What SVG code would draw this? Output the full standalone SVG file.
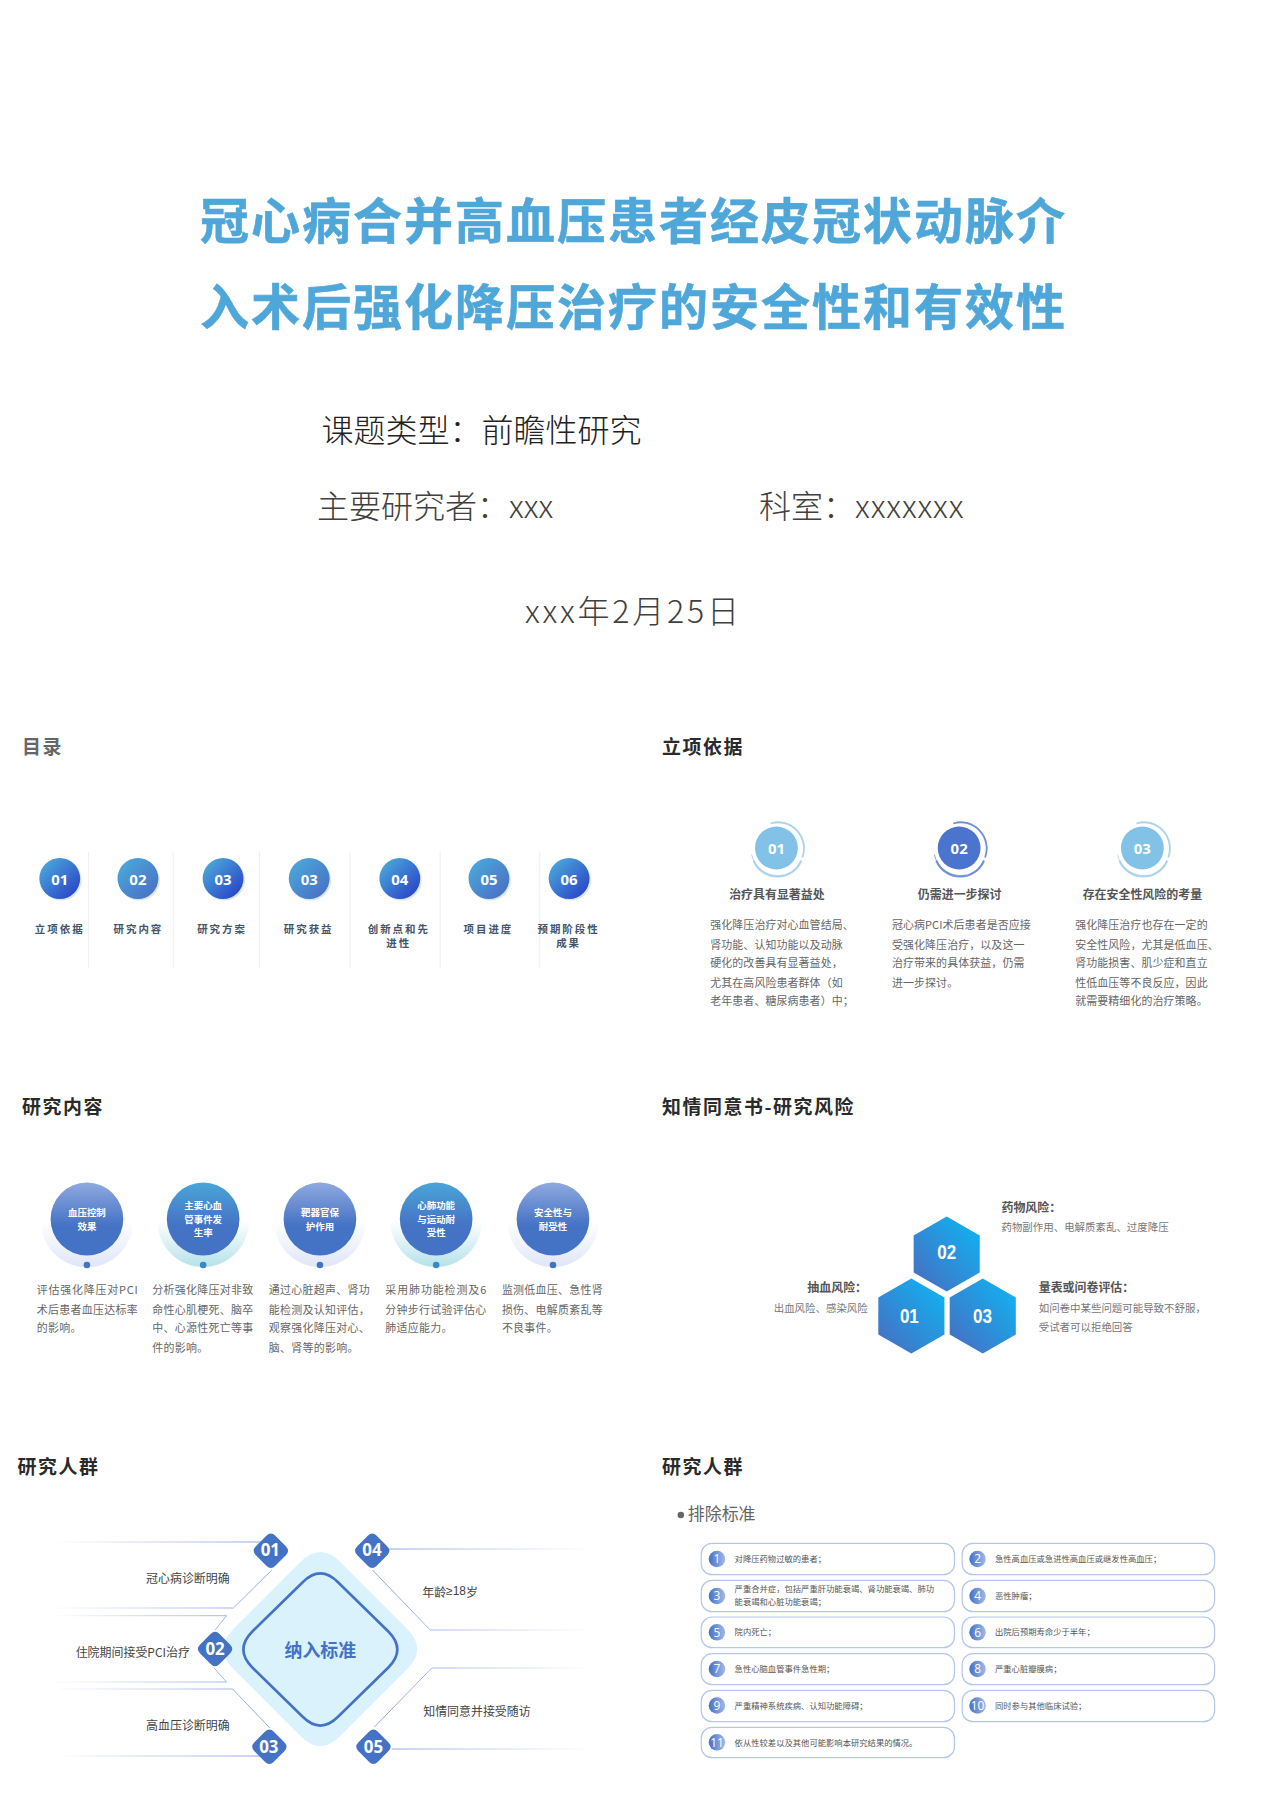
<svg xmlns="http://www.w3.org/2000/svg" width="1280" height="1800" viewBox="0 0 1280 1800">
<style>
text{font-family:"Noto Sans CJK SC","Noto Sans",sans-serif;dominant-baseline:central}
.m{text-anchor:middle}.e{text-anchor:end}
.title{font-size:49px;font-weight:700;fill:#4fa7d9;stroke:#4fa7d9;stroke-width:.6px;letter-spacing:2px}
.info{font-size:32px;fill:#404040;font-weight:300}
.h{font-size:19px;font-weight:700;fill:#2a2a2a;letter-spacing:1.6px}
.toc{font-size:10.5px;font-weight:700;fill:#44546a;letter-spacing:2px}
.num{font-size:15px;font-weight:700;fill:#fff;font-family:"Open Sans","Noto Sans",sans-serif}
.sh{font-size:12px;font-weight:700;fill:#555}
.b{font-size:11px;fill:#666;letter-spacing:.1px}
.b3{font-size:11px;fill:#666;letter-spacing:.3px}
.ct{font-size:9.5px;font-weight:700;fill:#fff}
.hexn{font-size:21px;font-weight:700;fill:#fff;font-family:"Liberation Sans",sans-serif}
.r{font-size:10.5px;fill:#777}
.l{font-size:12px;fill:#444}
.dn{font-size:17px;font-weight:700;fill:#fff;font-family:"Open Sans","Noto Sans",sans-serif}
.box{fill:#fff;stroke:#b4c6ec;stroke-width:1.2}
.bt{font-size:8.35px;fill:#555}
.bn{font-size:12px;fill:#fff;font-family:"Open Sans","Noto Sans",sans-serif}
.div{stroke:#eeeeee;stroke-width:1}
.cn{fill:none;stroke-width:1}
</style>
<defs>
<linearGradient id="g1" x1="0" y1="0" x2="1" y2="1"><stop offset=".1" stop-color="#4aa8da"/><stop offset=".9" stop-color="#2a44c8"/></linearGradient>
<linearGradient id="g2" x1="0" y1="0" x2="1" y2="1"><stop offset=".1" stop-color="#4aa8da"/><stop offset=".9" stop-color="#4a70c4"/></linearGradient>
<linearGradient id="vd" x1="0" y1="0" x2="0" y2="1"><stop offset="0" stop-color="#4aa5d8"/><stop offset=".6" stop-color="#a9d6ee"/><stop offset="1" stop-color="#4aa5d8" stop-opacity="0"/></linearGradient>
<linearGradient id="c1" x1="0" y1="0" x2="0" y2="1"><stop offset="0" stop-color="#8fa9e0"/><stop offset=".6" stop-color="#4472c4"/></linearGradient>
<linearGradient id="c2" x1="0" y1="0" x2="0" y2="1"><stop offset="0" stop-color="#4aa5d8"/><stop offset=".6" stop-color="#4472c4"/></linearGradient>
<linearGradient id="h1" x1="0" y1="0" x2="0" y2="1"><stop offset="0" stop-color="#dfe6f7" stop-opacity="0"/><stop offset="1" stop-color="#dfe6f7"/></linearGradient>
<linearGradient id="h2" x1="0" y1="0" x2="0" y2="1"><stop offset="0" stop-color="#b5e2ea" stop-opacity="0"/><stop offset="1" stop-color="#b5e2ea"/></linearGradient>
<linearGradient id="hx" x1="0" y1="1" x2="1" y2="0"><stop offset=".1" stop-color="#4472c4"/><stop offset=".9" stop-color="#12b0f0"/></linearGradient>
<linearGradient id="ll" gradientUnits="userSpaceOnUse" x1="50" y1="0" x2="262" y2="0"><stop offset="0" stop-color="#8fa9e0" stop-opacity="0"/><stop offset="1" stop-color="#8fa9e0"/></linearGradient>
<linearGradient id="lr" gradientUnits="userSpaceOnUse" x1="594" y1="0" x2="391" y2="0"><stop offset="0" stop-color="#8fa9e0" stop-opacity="0"/><stop offset="1" stop-color="#8fa9e0"/></linearGradient>
<linearGradient id="bc" x1="0" y1="0" x2="1" y2="0"><stop offset="0" stop-color="#4472c4"/><stop offset="1" stop-color="#a3b9ea"/></linearGradient>
<path id="sd" d="M-4.5,-15 Q0,-19.5 4.5,-15 L15,-4.5 Q19.5,0 15,4.5 L4.5,15 Q0,19.5 -4.5,15 L-15,4.5 Q-19.5,0 -15,-4.5 Z" fill="#4472c4"/>
<polygon id="hex" points="0,-37.5 33.2,-18.5 33.2,18.5 0,37.5 -33.2,18.5 -33.2,-18.5" fill="url(#hx)"/>
<g id="ring"><path d="M-24,12 A26 26 0 0 0 24,12" fill="none" stroke-width="2"/><path d="M-7,-25 A26 26 0 0 1 25,9" fill="none" stroke-width="1.8"/><path d="M-3,-26.500 A27 27 0 0 1 26,-6" fill="none" stroke-width=".8"/><path d="M-26,6 A27 27 0 0 0 6,26.500" fill="none" stroke-width=".8"/></g>
</defs>

<g id="cover">
<text class="title m" x="633.500" y="217.500">冠心病合并高血压患者经皮冠状动脉介</text>
<text class="title m" x="633.500" y="303.500">入术后强化降压治疗的安全性和有效性</text>
<text class="info" x="321.500" y="428" style="fill:#222">课题类型：前瞻性研究</text>
<text class="info" x="317" y="503.500">主要研究者：xxx</text>
<text class="info" x="759" y="503.500">科室：<tspan letter-spacing=".9">xxxxxxx</tspan></text>
<text class="info" x="525" y="608.500" letter-spacing="2.800">xxx年2月25日</text>
</g>

<g id="left-column" transform="matrix(.9958 0 0 1 0 0)">
<g id="toc">
<text class="h" x="22" y="745" style="fill:#666">目录</text>
<g id="toc-dividers">
<line class="div" x1="89" y1="852" x2="89" y2="968"/><line class="div" x1="174" y1="852" x2="174" y2="968"/><line class="div" x1="260.500" y1="852" x2="260.500" y2="968"/><line class="div" x1="351.500" y1="852" x2="351.500" y2="968"/><line class="div" x1="442" y1="852" x2="442" y2="968"/><line class="div" x1="542" y1="852" x2="542" y2="968"/>
</g>
<g id="toc-1"><circle cx="61.500" cy="880" r="20.500" fill="#d4e8f7"/><circle cx="60" cy="878.500" r="20.500" fill="url(#g1)"/><text class="num m" x="60" y="878.500">01</text><text class="toc m" x="60" y="928">立项依据</text></g>
<g id="toc-2"><circle cx="140" cy="880" r="20.500" fill="#d4e8f7"/><circle cx="138.500" cy="878.500" r="20.500" fill="url(#g2)"/><text class="num m" x="138.500" y="878.500">02</text><text class="toc m" x="139" y="928">研究内容</text></g>
<g id="toc-3"><circle cx="225.500" cy="880" r="20.500" fill="#d4e8f7"/><circle cx="224" cy="878.500" r="20.500" fill="url(#g1)"/><text class="num m" x="224" y="878.500">03</text><text class="toc m" x="223" y="928">研究方案</text></g>
<g id="toc-4"><circle cx="312" cy="880" r="20.500" fill="#d4e8f7"/><circle cx="310.500" cy="878.500" r="20.500" fill="url(#g2)"/><text class="num m" x="310.500" y="878.500">03</text><text class="toc m" x="310" y="928">研究获益</text></g>
<g id="toc-5"><circle cx="403" cy="880" r="20.500" fill="#d4e8f7"/><circle cx="401.500" cy="878.500" r="20.500" fill="url(#g1)"/><text class="num m" x="401.500" y="878.500">04</text><text class="toc m" x="400.500" y="928">创新点和先</text><text class="toc m" x="400.500" y="942">进性</text></g>
<g id="toc-6"><circle cx="492.500" cy="880" r="20.500" fill="#d4e8f7"/><circle cx="491" cy="878.500" r="20.500" fill="url(#g2)"/><text class="num m" x="491" y="878.500">05</text><text class="toc m" x="490.500" y="928">项目进度</text></g>
<g id="toc-7"><circle cx="573" cy="880" r="20.500" fill="#d4e8f7"/><circle cx="571.500" cy="878.500" r="20.500" fill="url(#g1)"/><text class="num m" x="571.500" y="878.500">06</text><text class="toc m" x="571" y="928">预期阶段性</text><text class="toc m" x="571" y="942">成果</text></g>
</g>

<g id="content">
<text class="h" x="22" y="1105">研究内容</text>
<g id="content-1"><path d="M41,1221 A46 46 0 0 0 133.600,1221 Z" fill="url(#h1)"/><circle cx="87.300" cy="1219" r="36.500" fill="url(#c1)"/><circle cx="87.300" cy="1265" r="3.300" fill="#4472c4"/><text class="ct m" x="87.300" y="1212">血压控制</text><text class="ct m" x="87.300" y="1226">效果</text>
<text class="b3" x="37" y="1289.500" textLength="101.600">评估强化降压对PCI</text><text class="b3" x="37" y="1308.500" textLength="101.600">术后患者血压达标率</text><text class="b3" x="37" y="1327.500">的影响。</text></g>
<g id="content-2"><path d="M158,1221 A46 46 0 0 0 250,1221 Z" fill="url(#h2)"/><circle cx="204" cy="1219" r="36.500" fill="url(#c2)"/><circle cx="204" cy="1265" r="3.300" fill="#3a86d0"/><text class="ct m" x="204" y="1205">主要心血</text><text class="ct m" x="204" y="1219">管事件发</text><text class="ct m" x="204" y="1232">生率</text>
<text class="b3" x="153" y="1289.500" textLength="101.600">分析强化降压对非致</text><text class="b3" x="153" y="1308.500" textLength="101.600">命性心肌梗死、脑卒</text><text class="b3" x="153" y="1327.500" textLength="101.600">中、心源性死亡等事</text><text class="b3" x="153" y="1346.500">件的影响。</text></g>
<g id="content-3"><path d="M275.300,1221 A46 46 0 0 0 367.300,1221 Z" fill="url(#h1)"/><circle cx="321.300" cy="1219" r="36.500" fill="url(#c1)"/><circle cx="321.300" cy="1265" r="3.300" fill="#4472c4"/><text class="ct m" x="321.300" y="1212">靶器官保</text><text class="ct m" x="321.300" y="1226">护作用</text>
<text class="b3" x="270" y="1289.500" textLength="101.600">通过心脏超声、肾功</text><text class="b3" x="270" y="1308.500" textLength="101.600">能检测及认知评估，</text><text class="b3" x="270" y="1327.500" textLength="101.600">观察强化降压对心、</text><text class="b3" x="270" y="1346.500">脑、肾等的影响。</text></g>
<g id="content-4"><path d="M392,1221 A46 46 0 0 0 484,1221 Z" fill="url(#h2)"/><circle cx="438" cy="1219" r="36.500" fill="url(#c2)"/><circle cx="438" cy="1265" r="3.300" fill="#3a86d0"/><text class="ct m" x="438" y="1205">心肺功能</text><text class="ct m" x="438" y="1219">与运动耐</text><text class="ct m" x="438" y="1232">受性</text>
<text class="b3" x="387" y="1289.500" textLength="101.600">采用肺功能检测及6</text><text class="b3" x="387" y="1308.500" textLength="101.600">分钟步行试验评估心</text><text class="b3" x="387" y="1327.500">肺适应能力。</text></g>
<g id="content-5"><path d="M509.300,1221 A46 46 0 0 0 601.300,1221 Z" fill="url(#h1)"/><circle cx="555.300" cy="1219" r="36.500" fill="url(#c1)"/><circle cx="555.300" cy="1265" r="3.300" fill="#4472c4"/><text class="ct m" x="555.300" y="1212">安全性与</text><text class="ct m" x="555.300" y="1226">耐受性</text>
<text class="b3" x="504" y="1289.500" textLength="101.600">监测低血压、急性肾</text><text class="b3" x="504" y="1308.500" textLength="101.600">损伤、电解质紊乱等</text><text class="b3" x="504" y="1327.500">不良事件。</text></g>
</g>

<g id="inclusion">
<text class="h" x="17.500" y="1465">研究人群</text>
<g id="connectors">
<polyline class="cn" stroke="url(#ll)" points="59,1542 262,1542"/>
<polyline class="cn" stroke="url(#ll)" points="53,1608 234.400,1608 273,1570"/>
<polyline class="cn" stroke="url(#ll)" points="49,1615.700 227.500,1615.700 216,1630"/>
<polyline class="cn" stroke="url(#ll)" points="45,1682 227.500,1682 215,1668"/>
<polyline class="cn" stroke="url(#ll)" points="60,1689 233.600,1689 271,1728"/>
<polyline class="cn" stroke="url(#ll)" points="65,1756 262,1756"/>
<polyline class="cn" stroke="url(#lr)" points="594,1549 391,1549"/>
<polyline class="cn" stroke="url(#lr)" points="594,1630 432,1630 374,1570"/>
<polyline class="cn" stroke="url(#lr)" points="594,1668 433.600,1668 376,1727"/>
<polyline class="cn" stroke="url(#lr)" points="590,1749 393.400,1749"/>
</g>
<g id="inclusion-center">
<path d="M301.700,1562 Q321.700,1542 341.700,1562 L409,1629 Q429,1649 409,1669 L341.700,1736 Q321.700,1756 301.700,1736 L234.400,1669 Q214.400,1649 234.400,1629 Z" fill="#d9f2fc"/>
<path d="M303.700,1582.500 Q321.700,1564.500 339.700,1582.500 L390,1631.500 Q408,1649.500 390,1667.500 L339.700,1716.500 Q321.700,1734.500 303.700,1716.500 L253.400,1667.500 Q235.400,1649.500 253.400,1631.500 Z" fill="#d9f2fc" stroke="#4472c4" stroke-width="2.600"/>
<text class="m" x="321.700" y="1649" style="font-size:18px;font-weight:700;fill:#4472c4">纳入标准</text></g>
<g id="inc-1"><use href="#sd" x="272" y="1550.700"/><text class="dn m" x="271.500" y="1550">01</text><text class="l" x="146.700" y="1577.200">冠心病诊断明确</text></g>
<g id="inc-2"><use href="#sd" x="216" y="1649"/><text class="dn m" x="216" y="1648">02</text><text class="l" x="76" y="1651.200">住院期间接受PCI治疗</text></g>
<g id="inc-3"><use href="#sd" x="270.500" y="1746.700"/><text class="dn m" x="270" y="1746">03</text><text class="l" x="146.700" y="1724.500">高血压诊断明确</text></g>
<g id="inc-4"><use href="#sd" x="373.800" y="1550.700"/><text class="dn m" x="373.500" y="1550">04</text><text class="l" x="424" y="1591.200">年龄<tspan font-family="Liberation Sans">≥18</tspan>岁</text></g>
<g id="inc-5"><use href="#sd" x="375" y="1746.700"/><text class="dn m" x="375" y="1746">05</text><text class="l" x="425" y="1710.500">知情同意并接受随访</text></g>
</g>
</g>

<g id="right-column" transform="matrix(.9958 0 0 1 2.690 0)">
<g id="basis">
<text class="h" x="662" y="745">立项依据</text>
<line x1="869.500" y1="895" x2="869.500" y2="998" stroke="url(#vd)" stroke-width="1.200"/>
<line x1="1052.700" y1="895" x2="1052.700" y2="998" stroke="url(#vd)" stroke-width="1.200"/>
<g id="basis-1"><use href="#ring" x="778" y="848.500" stroke="#a9d4ee"/><circle cx="777" cy="848" r="21.500" fill="#82c2e6"/><text class="num m" x="777" y="848">01</text><text class="sh m" x="777.500" y="893.500">治疗具有显著益处</text>
<text class="b" x="710.500" y="924.200">强化降压治疗对心血管结局、</text><text class="b" x="710.500" y="943.500">肾功能、认知功能以及动脉</text><text class="b" x="710.500" y="962.500">硬化的改善具有显著益处，</text><text class="b" x="710.500" y="981.500">尤其在高风险患者群体（如</text><text class="b" x="710.500" y="1000.500">老年患者、糖尿病患者）中；</text></g>
<g id="basis-2"><use href="#ring" x="961.500" y="848.500" stroke="#6f90da"/><circle cx="960.500" cy="848" r="21.500" fill="#4a74cd"/><text class="num m" x="960.500" y="848">02</text><text class="sh m" x="961" y="893.500">仍需进一步探讨</text>
<text class="b" x="893" y="924.200">冠心病PCI术后患者是否应接</text><text class="b" x="893" y="943.500">受强化降压治疗，以及这一</text><text class="b" x="893" y="962.500">治疗带来的具体获益，仍需</text><text class="b" x="893" y="981.500">进一步探讨。</text></g>
<g id="basis-3"><use href="#ring" x="1145.500" y="848.500" stroke="#a9d4ee"/><circle cx="1144.500" cy="848" r="21.500" fill="#82c2e6"/><text class="num m" x="1144.500" y="848">03</text><text class="sh m" x="1144.500" y="893.500">存在安全性风险的考量</text>
<text class="b" x="1077" y="924.200">强化降压治疗也存在一定的</text><text class="b" x="1077" y="943.500">安全性风险，尤其是低血压、</text><text class="b" x="1077" y="962.500">肾功能损害、肌少症和直立</text><text class="b" x="1077" y="981.500">性低血压等不良反应，因此</text><text class="b" x="1077" y="1000.500">就需要精细化的治疗策略。</text></g>
</g>

<g id="risk">
<text class="h" x="662" y="1105">知情同意书-研究风险</text>
<g id="risk-2"><use href="#hex" x="948" y="1254"/><text class="hexn m" x="948" y="1251" textLength="19" lengthAdjust="spacingAndGlyphs">02</text><text class="sh" x="1003" y="1206">药物风险：</text><text class="r" x="1003" y="1226.500">药物副作用、电解质紊乱、过度降压</text></g>
<g id="risk-1"><use href="#hex" x="912.500" y="1316"/><text class="hexn m" x="910.500" y="1315.500" textLength="19" lengthAdjust="spacingAndGlyphs">01</text><text class="sh e" x="868" y="1286">抽血风险：</text><text class="r e" x="868.700" y="1307.500">出血风险、感染风险</text></g>
<g id="risk-3"><use href="#hex" x="984.200" y="1316"/><text class="hexn m" x="984" y="1315" textLength="19" lengthAdjust="spacingAndGlyphs">03</text><text class="sh" x="1040.400" y="1286">量表或问卷评估：</text><text class="r" x="1040.400" y="1307.500">如问卷中某些问题可能导致不舒服，</text><text class="r" x="1040.400" y="1326.500">受试者可以拒绝回答</text></g>
</g>

<g id="exclusion">
<text class="h" x="662" y="1465">研究人群</text>
<circle cx="681" cy="1515" r="3.300" fill="#666"/>
<text x="688" y="1512.500" style="font-size:17px;fill:#666">排除标准</text>
<g id="ex-1"><rect class="box" x="701.500" y="1543.300" width="254.300" height="31.400" rx="11"/><circle cx="717.300" cy="1559" r="8.300" fill="url(#bc)"/><text class="bn m" x="717.300" y="1559">1</text><text class="bt" x="735" y="1558.500">对降压药物过敏的患者；</text></g>
<g id="ex-2"><rect class="box" x="963.500" y="1543.300" width="253.500" height="31.400" rx="11"/><circle cx="979" cy="1559" r="8.300" fill="url(#bc)"/><text class="bn m" x="979" y="1559">2</text><text class="bt" x="996.500" y="1558.500">急性高血压或急进性高血压或继发性高血压；</text></g>
<g id="ex-3"><rect class="box" x="701.500" y="1580.300" width="254.300" height="31.400" rx="11"/><circle cx="717.300" cy="1596" r="8.300" fill="url(#bc)"/><text class="bn m" x="717.300" y="1596">3</text><text class="bt" x="735" y="1588.500">严重合并症，包括严重肝功能衰竭、肾功能衰竭、肺功</text><text class="bt" x="735" y="1601.500">能衰竭和心脏功能衰竭；</text></g>
<g id="ex-4"><rect class="box" x="963.500" y="1580.300" width="253.500" height="31.400" rx="11"/><circle cx="979" cy="1596" r="8.300" fill="url(#bc)"/><text class="bn m" x="979" y="1596">4</text><text class="bt" x="996.500" y="1595.500">恶性肿瘤；</text></g>
<g id="ex-5"><rect class="box" x="701.500" y="1617" width="254.300" height="30.700" rx="11"/><circle cx="717.300" cy="1632.300" r="8.300" fill="url(#bc)"/><text class="bn m" x="717.300" y="1632.300">5</text><text class="bt" x="735" y="1631.500">院内死亡；</text></g>
<g id="ex-6"><rect class="box" x="963.500" y="1617" width="253.500" height="30.700" rx="11"/><circle cx="979" cy="1632.300" r="8.300" fill="url(#bc)"/><text class="bn m" x="979" y="1632.300">6</text><text class="bt" x="996.500" y="1631.500">出院后预期寿命少于半年；</text></g>
<g id="ex-7"><rect class="box" x="701.500" y="1653.700" width="254.300" height="31" rx="11"/><circle cx="717.300" cy="1669" r="8.300" fill="url(#bc)"/><text class="bn m" x="717.300" y="1669">7</text><text class="bt" x="735" y="1668">急性心脑血管事件急性期；</text></g>
<g id="ex-8"><rect class="box" x="963.500" y="1653.700" width="253.500" height="31" rx="11"/><circle cx="979" cy="1669" r="8.300" fill="url(#bc)"/><text class="bn m" x="979" y="1669">8</text><text class="bt" x="996.500" y="1668">严重心脏瓣膜病；</text></g>
<g id="ex-9"><rect class="box" x="701.500" y="1690.300" width="254.300" height="31.400" rx="11"/><circle cx="717.300" cy="1705.500" r="8.300" fill="url(#bc)"/><text class="bn m" x="717.300" y="1705.500">9</text><text class="bt" x="735" y="1705">严重精神系统疾病、认知功能障碍；</text></g>
<g id="ex-10"><rect class="box" x="963.500" y="1690.300" width="253.500" height="31.400" rx="11"/><circle cx="979" cy="1705.500" r="8.300" fill="url(#bc)"/><text class="bn m" x="979" y="1705.500">10</text><text class="bt" x="996.500" y="1705">同时参与其他临床试验；</text></g>
<g id="ex-11"><rect class="box" x="701.500" y="1727.300" width="254.300" height="30.400" rx="11"/><circle cx="717.300" cy="1742.300" r="8.300" fill="url(#bc)"/><text class="bn m" x="717.300" y="1742.300">11</text><text class="bt" x="735" y="1741.500">依从性较差以及其他可能影响本研究结果的情况。</text></g>
</g>
</g>
</svg>
